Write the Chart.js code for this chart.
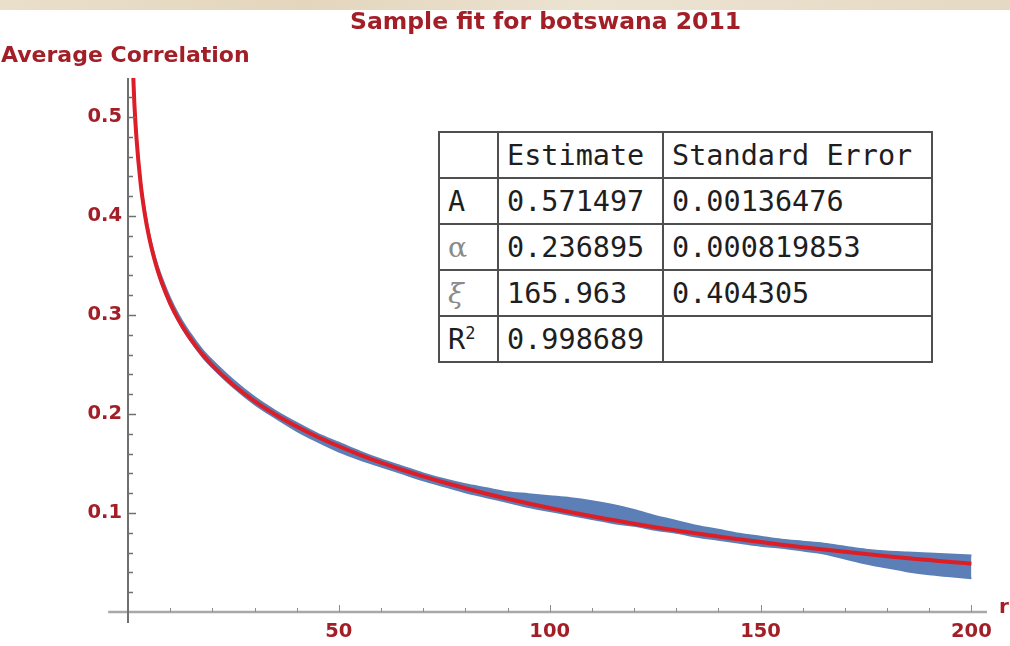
<!DOCTYPE html>
<html>
<head>
<meta charset="utf-8">
<script src="https://cdn.jsdelivr.net/npm/chart.js@4.4.1/dist/chart.umd.min.js"></script>
<style>
  html, body { margin: 0; padding: 0; background: #fff; }
  #wrap { position: relative; width: 1010px; height: 646px; overflow: hidden; background: #fff; }
  #strip { position: absolute; left: 0; top: 0; width: 1010px; height: 10px;
           background: linear-gradient(90deg, #eadfcb, #e4d6bd 30%, #ece3d2 60%, #e6d9c3); }
  #chart { position: absolute; left: 0; top: 0; }
  .lbl { position: absolute; font-family: "DejaVu Sans", sans-serif; font-weight: bold; color: #a31f27; line-height: 1; white-space: nowrap; }
  #title { left: 350px; top: 10px; font-size: 23.5px; }
  #ylabel { left: 1px; top: 44px; font-size: 22px; }
  #xlabel { left: 999px; top: 596px; font-size: 20px; }
  #fitTable { position: absolute; left: 438px; top: 131px; width: 493px; border-collapse: collapse; table-layout: fixed;
              font-family: "DejaVu Sans Mono", monospace; font-size: 28.5px; color: #1e1e1e; background: #fff; }
  #fitTable td { border: 2px solid #4f4f4f; height: 44px; padding: 0 0 0 8px; white-space: nowrap; overflow: hidden; }
  #fitTable .greek { font-family: "DejaVu Serif", serif; color: #8a8a8a; }
  #fitTable sup { font-size: 17px; vertical-align: 10px; line-height: 0; }
</style>
</head>
<body>
<div id="wrap">
  <div id="strip"></div>
  <canvas id="chart" width="1010" height="646"></canvas>
  <div class="lbl" id="title">Sample fit for botswana 2011</div>
  <div class="lbl" id="ylabel">Average Correlation</div>
  <div class="lbl" id="xlabel">r</div>
  <table id="fitTable">
    <colgroup><col style="width:59px"><col style="width:165px"><col style="width:269px"></colgroup>
    <tbody id="fitBody"></tbody>
  </table>
</div>
<script>
// distance r
var rValues = [1, 1.5, 2, 3, 4, 5, 6, 7, 8, 10, 12, 14, 16, 18, 20, 25, 30, 35, 40, 45, 50,
  55, 60, 65, 70, 75, 80, 85, 90, 95, 100, 105, 110, 115, 120, 125, 130, 135, 140, 145, 150,
  155, 160, 165, 170, 175, 180, 185, 190, 195, 200];

// red fitted curve
var fitValues = [0.568, 0.5145, 0.4792, 0.4326, 0.4017, 0.3787, 0.3606, 0.3456, 0.3328, 0.3118,
  0.2951, 0.2811, 0.2691, 0.2585, 0.2492, 0.2293, 0.2131, 0.1993, 0.1874, 0.1768, 0.1674,
  0.1588, 0.1509, 0.1437, 0.1370, 0.1308, 0.1250, 0.1195, 0.1144, 0.1096, 0.1051,
  0.1008, 0.0967, 0.0929, 0.0892, 0.0857, 0.0824, 0.0792, 0.0762, 0.0734, 0.0706,
  0.0680, 0.0655, 0.0631, 0.0608, 0.0586, 0.0564, 0.0544, 0.0525, 0.0506, 0.0488];

// blue data band (upper / lower edge)
var dataUpper = [0.572, 0.519, 0.484, 0.437, 0.406, 0.383, 0.365, 0.350, 0.338, 0.317,
  0.300, 0.286, 0.274, 0.263, 0.254, 0.234, 0.217, 0.203, 0.191, 0.180, 0.171,
  0.162, 0.154, 0.147, 0.140, 0.134, 0.129, 0.125, 0.121, 0.119, 0.117,
  0.115, 0.112, 0.108, 0.103, 0.097, 0.092, 0.087, 0.083, 0.079, 0.076,
  0.073, 0.071, 0.069, 0.066, 0.063, 0.061, 0.060, 0.059, 0.058, 0.057];
var dataLower = [0.566, 0.513, 0.477, 0.431, 0.400, 0.377, 0.359, 0.344, 0.331, 0.310,
  0.293, 0.279, 0.267, 0.256, 0.247, 0.227, 0.210, 0.196, 0.183, 0.172, 0.162,
  0.154, 0.147, 0.140, 0.133, 0.127, 0.121, 0.116, 0.111, 0.106, 0.102,
  0.098, 0.094, 0.090, 0.087, 0.083, 0.080, 0.076, 0.073, 0.070, 0.067,
  0.065, 0.062, 0.059, 0.054, 0.049, 0.045, 0.041, 0.038, 0.036, 0.034];

// tick labels
var xTicks = [50, 100, 150, 200];
var yTicks = [0.1, 0.2, 0.3, 0.4, 0.5];

// fit table
var paramLabels = ['A', '<span class="greek">&alpha;</span>', '<span class="greek"><i>&xi;</i></span>', 'R<sup>2</sup>'];
var estimates = ['0.571497', '0.236895', '165.963', '0.998689'];
var stdErrors = ['0.00136476', '0.000819853', '0.404305', ''];

var blue = '#5b7fb6';
var red = 'rgb(222,30,38)';
var labelRed = '#a31f27';

// build the table
var rows = '<tr><td></td><td>Estimate</td><td>Standard Error</td></tr>';
for (var i = 0; i < paramLabels.length; i++) {
  rows += '<tr><td>' + paramLabels[i] + '</td><td>' + estimates[i] + '</td><td>' + stdErrors[i] + '</td></tr>';
}
document.getElementById('fitBody').innerHTML = rows;

function pts(vals) {
  return rValues.map(function(r, i) { return {x: r, y: vals[i]}; });
}

// Mathematica style axes: through origin, inward ticks, small overhang
var axesPlugin = {
  id: 'mathAxes',
  afterDatasetsDraw: function(chart) {
    var ctx = chart.ctx, xs = chart.scales.x, ys = chart.scales.y;
    var x0 = xs.getPixelForValue(0), y0 = ys.getPixelForValue(0);
    ctx.save();
    // x axis
    ctx.strokeStyle = '#a8a8a8';
    ctx.lineWidth = 2.5;
    ctx.beginPath();
    ctx.moveTo(xs.getPixelForValue(-4.7), y0);
    ctx.lineTo(xs.getPixelForValue(xs.max), y0);
    ctx.stroke();
    ctx.lineWidth = 1;
    ctx.strokeStyle = '#8c8c8c';
    for (var v = 10; v <= 200; v += 10) {
      var px = Math.round(xs.getPixelForValue(v)) + 0.5;
      var len = (v % 50 === 0) ? 7 : 4;
      ctx.beginPath();
      ctx.moveTo(px, y0);
      ctx.lineTo(px, y0 - len);
      ctx.stroke();
    }
    // y axis
    ctx.strokeStyle = '#707070';
    ctx.lineWidth = 2;
    ctx.beginPath();
    ctx.moveTo(x0, ys.getPixelForValue(-0.011));
    ctx.lineTo(x0, ys.getPixelForValue(ys.max));
    ctx.stroke();
    ctx.lineWidth = 1.5;
    for (var k = 1; k <= 26; k++) {
      var py = Math.round(ys.getPixelForValue(k * 0.02)) + 0.5;
      var l = (k % 5 === 0) ? 8 : 5;
      ctx.beginPath();
      ctx.moveTo(x0, py);
      ctx.lineTo(x0 + l, py);
      ctx.stroke();
    }
    ctx.restore();
  }
};

var ctx = document.getElementById('chart').getContext('2d');
var chart = new Chart(ctx, {
  type: 'line',
  data: {
    datasets: [
      {
        label: 'fit',
        data: pts(fitValues),
        borderColor: red,
        borderWidth: 4,
        pointRadius: 0,
        fill: false,
        cubicInterpolationMode: 'monotone',
        clip: 0
      },
      {
        label: 'data upper',
        data: pts(dataUpper),
        borderColor: blue,
        backgroundColor: blue,
        borderWidth: 2,
        pointRadius: 0,
        fill: '+1',
        cubicInterpolationMode: 'monotone',
        clip: 0
      },
      {
        label: 'data lower',
        data: pts(dataLower),
        borderColor: blue,
        borderWidth: 2,
        pointRadius: 0,
        fill: false,
        cubicInterpolationMode: 'monotone',
        clip: 0
      }
    ]
  },
  options: {
    responsive: false,
    devicePixelRatio: 1,
    animation: false,
    layout: { padding: { top: 78, right: 23, left: 0, bottom: 0 } },
    plugins: {
      legend: { display: false },
      tooltip: { enabled: false },
      title: { display: false }
    },
    scales: {
      x: {
        type: 'linear',
        min: 0,
        max: 203.7,
        grid: { display: false, drawTicks: false },
        border: { display: false },
        afterFit: function(s) { s.height = 34; },
        afterBuildTicks: function(s) { s.ticks = xTicks.map(function(v) { return {value: v}; }); },
        ticks: {
          autoSkip: false,
          maxRotation: 0,
          padding: 8,
          color: labelRed,
          font: { family: 'DejaVu Sans', weight: 'bold', size: 19.5 }
        }
      },
      y: {
        type: 'linear',
        min: 0,
        max: 0.5394,
        grid: { display: false, drawTicks: false },
        border: { display: false },
        afterFit: function(s) { s.width = 128; },
        afterBuildTicks: function(s) { s.ticks = yTicks.map(function(v) { return {value: v}; }); },
        ticks: {
          autoSkip: false,
          padding: 6,
          color: labelRed,
          font: { family: 'DejaVu Sans', weight: 'bold', size: 19.5 },
          callback: function(v) { return v.toFixed(1); }
        }
      }
    }
  },
  plugins: [axesPlugin]
});
</script>
</body>
</html>
